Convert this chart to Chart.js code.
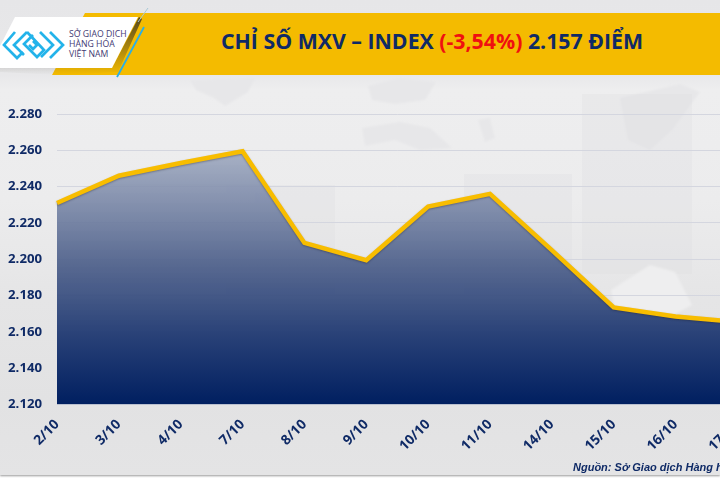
<!DOCTYPE html>
<html>
<head>
<meta charset="utf-8">
<script src="https://cdn.jsdelivr.net/npm/chart.js@4"></script>
<style>
html, body { margin: 0; padding: 0; width: 720px; height: 480px; overflow: hidden; background: #fff; }
#page { position: absolute; left: 0; top: 0; width: 720px; height: 475px; overflow: hidden; box-shadow: 0 1px 2px #999;
    background: linear-gradient(180deg, #e6e6e8 0, #e8e8ea 75px, #eeeeef 90px, #ececed 200px, #e5e5e6 300px, #e2e2e3 400px, #e4e4e5 475px); font-family: "Open Sans", sans-serif; }
#deco { position: absolute; left: 0; top: 0; }
#chart-wrap { position: absolute; left: 0; top: 80px; width: 753px; height: 400px; }
#title { position: absolute; left: 221px; top: 26px; font-size: 21.3px; font-weight: 700; color: #0f2a66; white-space: nowrap; line-height: 30px; }
#title span { color: #f01010; }
#logo-text { position: absolute; left: 69px; top: 30px; font-size: 8.7px; line-height: 9.8px; color: #3f3a73; white-space: nowrap; }
#source { position: absolute; left: 573px; top: 461px; font: italic 700 11px "Liberation Sans", sans-serif; color: #0f2a66; white-space: nowrap; }
</style>
</head>
<body>
<div id="page">
    <svg id="deco" width="720" height="480">
        <defs>
            <linearGradient id="shade" x1="0" y1="0" x2="0" y2="1">
                <stop offset="0" stop-color="#3a3422" stop-opacity=".85"/>
                <stop offset="1" stop-color="#3a3422" stop-opacity="0"/>
            </linearGradient>
            <filter id="soft"><feGaussianBlur stdDeviation="1.2"/></filter>
        </defs>
        <!-- faint world map + bars behind the plot -->
        <g fill="#e7e7e9" filter="url(#soft)">
            <polygon points="190,80 255,78 248,92 225,106 214,98 196,90"/>
            <polygon points="368,86 400,78 436,82 425,100 395,104 372,100"/>
            <polygon points="362,128 400,122 430,128 452,148 420,150 395,140 365,146"/>
            <polygon points="478,120 490,118 495,138 485,142"/>
            <polygon points="620,98 680,84 700,92 672,130 650,150 628,140"/>
        </g>
        <g fill="#dcdcdf" opacity=".25">
            <rect x="582" y="94" width="110" height="180"/>
            <rect x="464" y="174" width="108" height="130"/>
            <rect x="226" y="185" width="109" height="120"/>
        </g>
        <polygon points="611,290 650,265 675,272 692,305 668,318 616,318" fill="#eeeeef" filter="url(#soft)"/>
        <polygon points="85,13 720,13 720,75 52,75" fill="#f4bb00"/>
        <polygon points="0,68 112,68 139,17 142,19 118,72 55,75 0,72" fill="url(#shade)"/>
        <polygon points="15,17 138,17 112,68 0,68 0,46" fill="#fff"/>
        <line x1="144" y1="27" x2="117" y2="77" stroke="#29aee8" stroke-width="1.8"/>
        <line x1="148" y1="8" x2="138" y2="22" stroke="#a8c8d6" stroke-width="1"/>
        <g fill="none" stroke="#23b3ea" stroke-width="2.7">
            <path d="M15,32 L4,45 L17,58 L23,52"/>
            <path d="M27,32 L14,45 L24,55"/>
            <path d="M27,32 L44,50 L37,57 L24,44 L33,35"/>
            <path d="M33,41 L37,45 L33,49 L29,45"/>
            <path d="M40,32 L53,45 L41,57"/>
            <path d="M50,32 L63,45 L50,58"/>
        </g>
    </svg>
    <div id="logo-text">SỞ GIAO DỊCH<br>HÀNG HÓA<br>VIỆT NAM</div>
    <div id="title">CHỈ SỐ MXV – INDEX <span>(-3,54%)</span> 2.157 ĐIỂM</div>
    <div id="chart-wrap"><canvas id="mxv-chart"></canvas></div>
    <div id="source">Nguồn: Sở Giao dịch Hàng hóa Việt Nam</div>
</div>
<script>
const days = ['2/10', '3/10', '4/10', '7/10', '8/10', '9/10', '10/10', '11/10', '14/10', '15/10', '16/10', '17/10'];
const indexValues = [2231, 2246, 2253, 2259.5, 2209, 2199.5, 2229, 2236, 2205, 2173.5, 2168.5, 2165.5];
const yMin = 2120;
const yMax = 2280;
const yStep = 20;

function areaGradient(context) {
    const area = context.chart.chartArea;
    if (!area) return '#123070';
    const y = context.chart.scales.y;
    const g = context.chart.ctx.createLinearGradient(0, y.getPixelForValue(2260), 0, area.bottom);
    g.addColorStop(0, 'rgba(160,170,192,0.9)');
    g.addColorStop(0.45, 'rgba(80,98,140,0.95)');
    g.addColorStop(0.72, '#2a4278');
    g.addColorStop(1, '#001f60');
    return g;
}

// soft dark edge under the yellow line
const lineShadow = {
    id: 'lineShadow',
    beforeDatasetDraw(chart) {
        const ctx = chart.ctx;
        ctx.save();
        ctx.shadowColor = 'rgba(30,30,40,0.35)';
        ctx.shadowBlur = 2;
        ctx.shadowOffsetY = 1;
    },
    afterDatasetDraw(chart) {
        chart.ctx.restore();
    }
};

Chart.defaults.font.family = '"Open Sans", sans-serif';

new Chart(document.getElementById('mxv-chart').getContext('2d'), {
    type: 'line',
    data: {
        labels: days,
        datasets: [{
            data: indexValues,
            borderColor: '#f8bd00',
            borderWidth: 4.5,
            backgroundColor: areaGradient,
            fill: 'start',
            pointRadius: 0,
            tension: 0
        }]
    },
    options: {
        responsive: true,
        maintainAspectRatio: false,
        animation: false,
        layout: { padding: { left: 0, top: 34, right: 6, bottom: 0 } },
        plugins: { legend: { display: false }, tooltip: { enabled: false } },
        scales: {
            x: {
                offset: false,
                afterFit: axis => { axis.height = 75.5; },
                grid: { display: false },
                border: { display: false },
                ticks: { color: '#0f2a66', font: { size: 13.7, weight: 700 }, maxRotation: 45, minRotation: 45, autoSkip: false, padding: 4 }
            },
            y: {
                min: yMin,
                max: yMax,
                afterFit: axis => { axis.width = 57; },
                grid: { color: '#d4d6df', lineWidth: 1, drawTicks: false },
                border: { display: false },
                ticks: {
                    stepSize: yStep,
                    color: '#0f2a66',
                    padding: 15,
                    font: { size: 13.2, weight: 700 },
                    callback: v => String(v).replace(/(\d)(\d{3})$/, '$1.$2')
                }
            }
        }
    },
    plugins: [lineShadow]
});
</script>
</body>
</html>
